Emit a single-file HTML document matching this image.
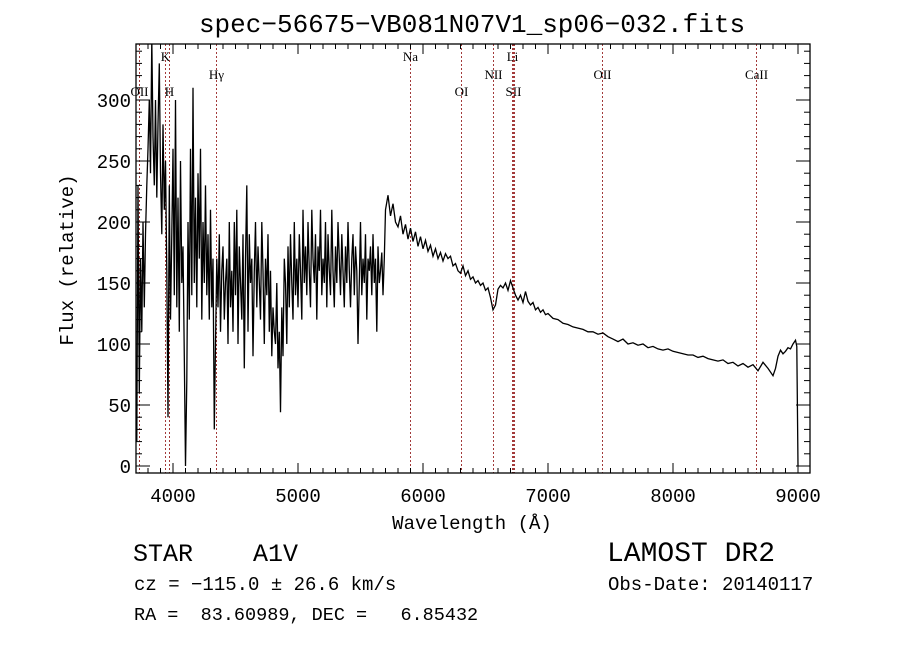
<!DOCTYPE html>
<html><head><meta charset="utf-8"><style>
html,body{margin:0;padding:0;background:#fff;}
svg{display:block;}
text{fill:#000;white-space:pre;}
</style></head><body>
<svg id="chart" width="900" height="649" viewBox="0 0 900 649" xmlns="http://www.w3.org/2000/svg" xml:space="preserve">
<rect x="0" y="0" width="900" height="649" fill="#fff"/>
<text x="472" y="32" text-anchor="middle" font-family="Liberation Mono, monospace" font-size="26">spec−56675−VB081N07V1_sp06−032.fits</text>
<defs><clipPath id="plotclip"><rect x="136" y="44" width="674" height="429"/></clipPath></defs>
<g id="lines"></g>
<g id="axes"></g>
<g clip-path="url(#plotclip)"><polyline id="spec" fill="none" stroke="#000" stroke-width="1.3"/></g>
<rect x="136" y="44" width="674" height="429" fill="none" stroke="#000" stroke-width="1.3"/>
<text x="472" y="529" text-anchor="middle" font-family="Liberation Mono, monospace" font-size="19">Wavelength (Å)</text>
<text transform="translate(73,260) rotate(-90)" text-anchor="middle" font-family="Liberation Mono, monospace" font-size="19">Flux (relative)</text>
<text x="133" y="561" font-family="Liberation Mono, monospace" font-size="25">STAR    A1V</text>
<text x="607" y="561" font-family="Liberation Mono, monospace" font-size="28">LAMOST DR2</text>
<text x="134" y="590" font-family="Liberation Mono, monospace" font-size="19">cz = −115.0 ± 26.6 km/s</text>
<text x="608" y="590" font-family="Liberation Mono, monospace" font-size="19">Obs-Date: 20140117</text>
<text x="134" y="620" font-family="Liberation Mono, monospace" font-size="18.5">RA =  83.60989, DEC =   6.85432</text>
</svg>
<script>
const xTicks=[4000,5000,6000,7000,8000,9000];
const yTicks=[0,50,100,150,200,250,300];
const lineNames=["OII","K","H","Hγ","Na","OI","NII","Li","SII","","OII","CaII"];
const lineWaves=[3727,3934,3969,4340,5893,6300,6563,6708,6717,6731,7432,8662];
const lineLabelRow=[2,0,2,1,0,2,1,0,2,2,1,1];
const blueStart=3710, blueStep=10;
const blueFlux=[20,230,60,170,110,200,130,190,230,
260,300,240,350,270,230,300,220,280,330,
240,190,280,210,250,160,40,230,120,190,
260,140,300,130,220,110,250,150,180,90,
0,70,200,120,260,140,310,150,220,130,
240,170,260,120,200,150,230,140,190,120,
210,130,170,30,100,170,130,190,110,160,
180,120,150,170,100,200,130,160,110,200,
140,210,100,180,150,120,190,80,170,230,
110,190,150,170,90,160,200,130,180,150,
120,200,160,100,170,140,190,110,160,90,
130,110,100,150,80,110,44,130,90,170,
150,100,180,130,190,150,120,200,140,170,
130,190,160,120,210,150,180,140,200,160,
130,210,170,150,190,120,180,160,210,140,
170,150,200,130,190,160,140,210,160,130,
180,150,200,170,140,190,160,130,180,150,
200,160,130,170,190,140,180,160,100,150,
200,140,170,150,190,120,170,160,180,140,
190,150,170,110,180,150,160,175,140,170];
const redWave=[5700,5720,5740,5760,5780,5800,5820,5840,5860,5880,5900,5920,5940,5960,5980,6000,6020,6040,6060,6080,6100,6120,6140,6160,6180,6200,6220,6240,6260,6280,6300,6320,6340,6360,6380,6400,6420,6440,6460,6480,6500,6520,6540,6560,6580,6600,6620,6640,6660,6680,6700,6720,6740,6760,6780,6800,6820,6840,6860,6880,6900,6920,6940,6960,6980,7000,7040,7080,7120,7160,7200,7240,7280,7320,7360,7400,7440,7480,7520,7560,7600,7640,7680,7720,7760,7800,7840,7880,7920,7960,8000,8040,8080,8120,8160,8200,8240,8280,8320,8360,8400,8440,8480,8520,8560,8600,8640,8680,8720,8760,8800,8820,8840,8860,8880,8900,8920,8940,8960,8980,8990,9000];
const redFlux=[210,222,205,215,200,196,205,190,198,186,195,184,192,180,188,178,185,176,181,172,178,170,175,168,174,170,172,164,166,160,158,164,156,160,153,155,150,152,148,150,144,146,138,128,132,145,148,146,150,144,152,146,140,136,140,134,143,135,132,134,128,130,126,128,124,125,121,120,117,116,114,113,112,110,110,108,109,106,104,102,104,100,101,99,100,97,98,96,95,96,94,93,92,91,91,89,90,88,87,86,87,84,85,82,84,81,83,78,85,80,74,80,90,95,92,94,97,96,100,103,98,0];

const NS="http://www.w3.org/2000/svg";
const X0=136,X1=810,Y0=44,Y1=473;
function xs(w){return 173+(w-4000)*0.125;}
function ys(v){return 466-v*1.22;}
const axes=document.getElementById('axes');
function ln(g,x1,y1,x2,y2,st,sw,dash){const l=document.createElementNS(NS,'line');l.setAttribute('x1',x1);l.setAttribute('y1',y1);l.setAttribute('x2',x2);l.setAttribute('y2',y2);l.setAttribute('stroke',st);l.setAttribute('stroke-width',sw);if(dash)l.setAttribute('stroke-dasharray',dash);g.appendChild(l);return l;}
for(let w=3800;w<=9000;w+=100){const x=xs(w);const major=w%1000===0;const L=major?10:5;
 const a=ln(axes,x,Y1,x,Y1-L,'#000',1);
 const b=ln(axes,x,Y0,x,Y0+L,'#000',1);}
for(let v=0;v<=340;v+=10){const y=ys(v);const major=v%50===0;const L=major?14:6;
 const a=ln(axes,X0,y,X0+L,y,'#000',1);
 const b=ln(axes,X1,y,X1-L,y,'#000',1);}
xTicks.forEach(w=>{const t=document.createElementNS(NS,'text');t.setAttribute('x',xs(w));t.setAttribute('y',502);t.setAttribute('text-anchor','middle');t.setAttribute('font-family','Liberation Mono, monospace');t.setAttribute('font-size','19');t.textContent=w;
 
 
 axes.appendChild(t);});
yTicks.forEach(v=>{const t=document.createElementNS(NS,'text');t.setAttribute('x',131);t.setAttribute('y',ys(v)+7);t.setAttribute('text-anchor','end');t.setAttribute('font-family','Liberation Mono, monospace');t.setAttribute('font-size','19');t.textContent=v;
 
 
 axes.appendChild(t);});
const lg=document.getElementById('lines');
const rowY=[61,79,96];
lineWaves.forEach((w,i)=>{const x=Math.round(xs(w))+0.5;
 const l=ln(lg,x,Y0,x,Y1,'#a33a3a',1,'2,2');
 
 
 if(lineNames[i]){const t=document.createElementNS(NS,'text');t.setAttribute('x',x);t.setAttribute('y',rowY[lineLabelRow[i]]);t.setAttribute('text-anchor','middle');t.setAttribute('font-family','Liberation Serif, serif');t.setAttribute('font-size','13');t.textContent=lineNames[i];
 
 
 lg.appendChild(t);}});
const pts=[];
blueFlux.forEach((f,i)=>{pts.push(xs(blueStart+i*blueStep).toFixed(1)+','+ys(f).toFixed(1));});
redWave.forEach((w,i)=>{pts.push(xs(w).toFixed(1)+','+ys(redFlux[i]).toFixed(1));});
document.getElementById('spec').setAttribute('points',pts.join(' '));
</script>
</body></html>
